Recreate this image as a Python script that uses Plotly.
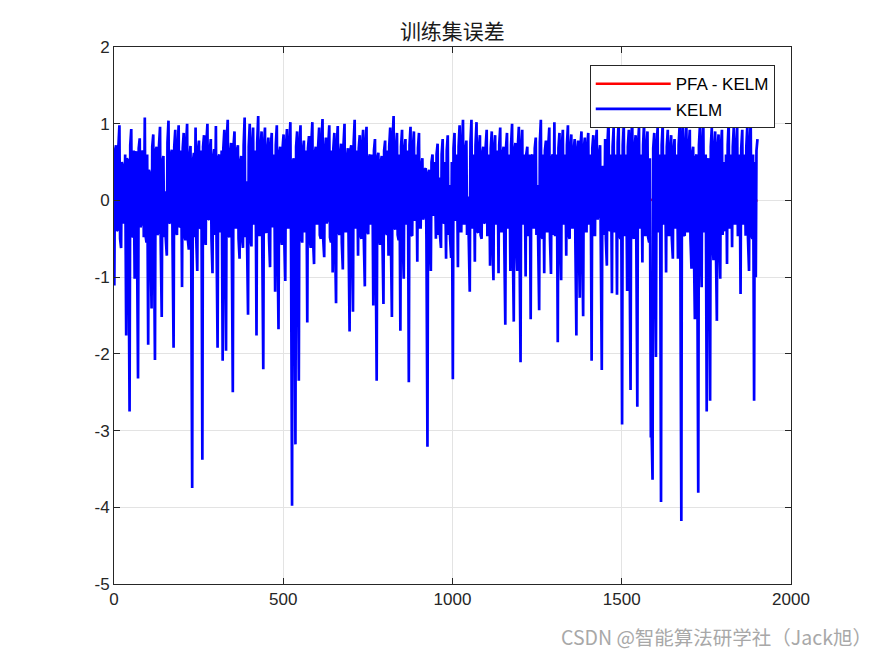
import plotly.graph_objects as go

# KELM training error read at every 5th sample (samples 1, 6, 11, ...)
kelm_step = 5
kelm_err = [
    -1.11, 0.72, -0.38, 0.98, -0.62, 0.45, -0.21, -1.76, 0.52, -2.75, 0.93, -0.48, -1.02, 0.64, -2.32, 0.81, -0.30, 0.62, 1.08, -0.55,
    -1.88, 0.35, -1.41, 0.86, -2.08, 0.70, -0.42, 0.96, -1.52, 0.58, 0.12, -0.72, 1.04, -0.28, 0.66, -1.92, 0.92, -0.45, 0.98, -0.33,
    -1.13, 0.88, -0.52, 1.00, -0.64, 0.71, -3.75, 0.62, 0.95, -0.92, 0.78, -0.36, -3.38, 0.85, -0.58, 1.00, -0.24, 0.80, -0.95, 0.67,
    0.97, -1.92, 0.60, -0.40, -2.09, 0.92, -1.96, 1.05, -0.48, 0.75, -2.50, 0.90, -0.35, 0.72, -0.76, 0.58, -0.62, 1.08, 0.25, -1.49,
    1.00, -0.60, 0.95, -0.30, -1.76, 1.10, -0.45, 0.90, -2.20, 0.95, -0.42, 0.82, -0.87, 0.88, -0.30, -1.19, 0.98, -1.68, 0.70, -0.58,
    0.86, -1.05, 0.93, -0.35, 1.02, -3.98, 0.55, -3.18, 0.90, -2.35, 0.98, -0.55, 0.78, -0.40, -1.59, 0.84, -0.62, 1.02, -0.83, 0.70,
    -0.30, 0.95, -0.50, 1.06, -0.74, 0.82, -0.25, 0.98, -0.55, -0.94, 0.88, -1.34, 0.97, -0.45, 0.74, -0.90, 1.00, -0.40, 0.68, -1.71,
    0.72, -1.45, 1.05, -0.35, -0.72, 0.85, -0.50, 0.92, -1.12, 0.96, -0.44, 0.60, -0.30, -1.37, 0.80, -2.35, 0.62, -0.58, 0.58, -1.35,
    0.78, -0.45, -0.72, 0.95, -1.52, 1.10, -0.38, 0.88, -0.52, -1.70, 0.92, -1.02, 0.80, -0.30, -2.37, 0.96, -0.46, 0.90, -0.25, -0.80,
    0.88, -0.35, 0.55, -0.20, 0.42, -3.21, 0.40, -0.92, 0.60, -0.15, -0.50, 0.74, 0.30, -0.62, 0.80, -0.28, -0.76, 0.85, 0.20, -0.75,
    -2.33, 0.88, -0.25, -0.87, 0.98, -0.40, 1.05, -0.30, 0.78, 0.05, -1.19, 1.05, -0.35, -0.80, 1.02, -0.42, 0.85, -0.50, 0.70, -0.28,
    0.92, -0.45, -0.85, 0.90, -1.04, 0.85, -0.30, -0.95, 0.95, -0.40, 0.70, -1.62, 0.88, -0.35, -0.92, 1.00, -1.58, 0.75, -0.92, 0.96,
    -2.11, 0.92, -0.30, -0.99, 0.70, -0.45, -1.55, 0.60, -0.35, 0.82, 0.20, -1.43, 1.05, -0.50, -0.95, 0.78, -0.40, 0.95, -0.96, 0.60,
    1.02, -0.45, -1.85, 0.88, -1.04, 0.92, -0.30, -0.72, 0.98, -0.50, 0.86, -0.35, 0.80, -1.76, 0.78, -1.27, 0.90, -1.51, 0.82, -0.40,
    0.88, -0.30, -2.09, 0.85, -0.45, 0.92, -0.20, 0.72, -2.21, 0.40, 0.80, -0.85, 1.06, -0.38, -1.21, 0.95, -0.40, -1.23, 1.05, -0.50,
    -2.92, 1.00, -0.45, -1.18, 0.92, -2.47, 1.08, -0.50, 0.85, -2.69, 0.96, -0.35, -0.81, 1.02, -0.45, 0.90, -0.55, -3.09, -3.64, 0.88,
    -2.04, 0.95, -0.40, -3.93, 1.00, -0.30, -0.94, 0.92, -0.45, 0.85, -0.76, 0.80, -0.35, -0.76, 0.98, -4.18, 1.12, -0.46, 0.95, -0.40,
    0.92, -0.89, 0.70, -1.55, 0.60, -3.81, 0.98, -1.13, 1.02, -0.40, -2.75, 0.55, -2.61, 0.95, -0.78, 0.90, -1.57, 0.86, -1.02, 0.92,
    0.50, -0.40, -0.83, 1.04, -0.35, -0.61, 0.96, -0.30, 0.95, -0.45, -1.22, 0.92, -0.30, -0.46, 0.98, -0.92, 1.02, -0.50, -2.61, -1.00,
    0.80,
]
# KELM training error read at the in-between samples (samples 3, 8, 13, ...)
kelm_err_mid = [
    0.65, -0.40, 0.70, -0.50, 0.50, -0.30, 0.60, 0.55, -0.58, 0.72, -0.45, 0.65, 0.60, -0.55, 0.68, -0.35, 0.65, -0.48, -0.45, 0.60,
    0.40, -0.50, 0.70, -0.48, 0.65, -0.45, 0.72, -0.55, 0.50, -0.48, -0.50, 0.75, -0.30, 0.60, -0.58, 0.70, -0.40, 0.68, -0.35, 0.65,
    0.68, -0.45, 0.72, -0.50, 0.55, -0.55, 0.50, -0.48, -0.50, 0.65, -0.35, 0.65, 0.70, -0.45, 0.75, -0.25, 0.65, -0.50, 0.55, -0.45,
    -0.55, 0.55, -0.40, 0.65, 0.68, -0.48, 0.78, -0.45, 0.60, -0.55, 0.70, -0.35, 0.65, -0.50, 0.50, -0.48, 0.72, -0.48, -0.50, 0.70,
    -0.48, 0.72, -0.30, 0.65, 0.75, -0.45, 0.68, -0.55, 0.70, -0.40, 0.65, -0.50, 0.68, -0.35, 0.60, 0.72, -0.50, 0.60, -0.48, 0.68,
    -0.50, 0.70, -0.35, 0.72, -0.55, 0.50, -0.50, 0.70, -0.55, 0.72, -0.45, 0.65, -0.40, 0.65, 0.68, -0.48, 0.75, -0.50, 0.60, -0.30,
    0.70, -0.45, 0.75, -0.50, 0.65, -0.30, 0.72, -0.48, 0.65, 0.68, -0.50, 0.70, -0.40, 0.60, -0.55, 0.72, -0.40, 0.55, -0.50, 0.65,
    -0.50, 0.75, -0.35, 0.65, 0.68, -0.45, 0.70, -0.50, 0.72, -0.40, 0.55, -0.30, 0.60, 0.65, -0.55, 0.55, -0.48, 0.50, -0.50, 0.65,
    -0.40, 0.65, 0.70, -0.50, 0.78, -0.35, 0.68, -0.45, 0.60, 0.70, -0.50, 0.65, -0.30, 0.65, 0.72, -0.45, 0.68, -0.25, 0.60, 0.68,
    -0.35, 0.45, -0.25, 0.40, -0.50, 0.35, -0.45, 0.50, -0.20, 0.50, 0.60, -0.45, -0.45, 0.60, -0.30, 0.50, 0.65, -0.45, -0.50, 0.50,
    0.68, -0.25, 0.60, 0.70, -0.40, 0.72, -0.30, 0.65, -0.45, -0.50, 0.75, -0.35, 0.60, 0.72, -0.40, 0.68, -0.45, 0.60, -0.30, 0.70,
    -0.45, 0.60, 0.68, -0.50, 0.68, -0.30, 0.65, 0.72, -0.40, 0.60, -0.55, 0.68, -0.35, 0.60, 0.72, -0.50, 0.65, -0.50, 0.70, -0.55,
    0.70, -0.30, 0.60, 0.60, -0.45, 0.60, 0.55, -0.35, 0.68, -0.45, -0.50, 0.75, -0.45, 0.60, 0.65, -0.40, 0.72, -0.50, 0.55, -0.45,
    -0.45, 0.60, 0.68, -0.50, 0.70, -0.30, 0.60, 0.72, -0.45, 0.68, -0.35, 0.65, -0.55, 0.65, -0.50, 0.70, -0.50, 0.68, -0.40, 0.68,
    -0.30, 0.60, 0.68, -0.45, 0.70, -0.25, 0.60, -0.55, 0.45, -0.45, -0.50, 0.75, -0.40, 0.60, 0.70, -0.40, 0.60, 0.75, -0.45, 0.60,
    0.72, -0.45, 0.60, 0.70, -0.55, 0.75, -0.45, 0.68, -0.55, 0.72, -0.35, 0.60, 0.72, -0.45, 0.70, -0.48, 0.55, -2.95, 0.68, -0.55,
    0.70, -0.40, 0.60, 0.72, -0.30, 0.60, 0.70, -0.45, 0.68, -0.50, 0.65, -0.35, 0.60, 0.72, -0.55, 0.78, -0.45, 0.70, -0.40, 0.70,
    -0.50, 0.60, -0.55, 0.55, -0.55, 0.72, -0.50, 0.72, -0.40, 0.60, 0.50, -0.55, 0.70, -0.50, 0.68, -0.55, 0.68, -0.50, 0.70, -0.45,
    -0.35, 0.60, 0.72, -0.35, 0.60, 0.70, -0.30, 0.70, -0.45, 0.60, 0.68, -0.30, 0.60, 0.70, -0.50, 0.72, -0.45, 0.60, 0.50, 0.65,
]

pfa_x = [1, 100, 200, 300, 400, 500, 600, 680, 760, 860, 960, 1034, 1120, 1220, 1320, 1411, 1453, 1560, 1660, 1760, 1860, 1901]
pfa_err = [0.07, 0.03, -0.02, 0.02, -0.03, 0.01, -0.02, 0.03, -0.01, 0.02, -0.03, -0.10, 0.02, -0.02, 0.03, 0.10, -0.06, 0.02, -0.02, 0.01, -0.02, 0.00]

title_text = "训练集误差"
legend_names = ["PFA - KELM", "KELM"]
x_ticks = [0, 500, 1000, 1500, 2000]
y_ticks = [-5, -4, -3, -2, -1, 0, 1, 2]
watermark = "CSDN @智能算法研学社（Jack旭）"

# merge the two sets of samples in sample order
kelm_x_a = list(range(1, 1 + kelm_step * len(kelm_err), kelm_step))
kelm_x_b = list(range(3, 3 + kelm_step * len(kelm_err_mid), kelm_step))
pairs = sorted(zip(kelm_x_a + kelm_x_b, kelm_err + kelm_err_mid))
kelm_x = [p[0] for p in pairs]
kelm_y = [p[1] for p in pairs]

fig = go.Figure()
fig.add_trace(go.Scatter(x=pfa_x, y=pfa_err, mode="lines", name=legend_names[0],
                         line=dict(color="#ff0000", width=2.5, simplify=False)))
fig.add_trace(go.Scatter(x=kelm_x, y=kelm_y, mode="lines", name=legend_names[1],
                         line=dict(color="#0000ff", width=2.7, simplify=False)))

tick_font = dict(family="Liberation Sans, Arial, sans-serif", size=17, color="#262626")
axis_common = dict(
    showgrid=True, gridcolor="#e3e3e3", gridwidth=1,
    showline=True, linecolor="#262626", linewidth=1, mirror="ticks",
    ticks="inside", ticklen=6, tickcolor="#262626",
    zeroline=False, tickfont=tick_font,
)

fig.update_layout(
    width=875, height=656,
    paper_bgcolor="white", plot_bgcolor="white",
    margin=dict(l=114, r=84, t=47, b=72),
    title=dict(text=title_text, x=0.517, xanchor="center", y=0.951, yanchor="middle",
               font=dict(family="Noto Sans CJK SC", size=21, color="#1a1a1a")),
    xaxis=dict(range=[0, 2000], tickvals=x_ticks, ticktext=[str(v) for v in x_ticks], **axis_common),
    yaxis=dict(range=[-5, 2], tickvals=y_ticks, ticktext=[str(v) for v in y_ticks], **axis_common),
    legend=dict(x=0.976, xanchor="right", y=0.966, yanchor="top",
                bordercolor="#262626", borderwidth=1, bgcolor="white",
                font=dict(family="Liberation Sans, Arial, sans-serif", size=17, color="#000000"),
                itemwidth=75, tracegroupgap=0),
    showlegend=True,
    annotations=[dict(text=watermark, xref="paper", yref="paper",
                      x=1.123, xanchor="right", y=-0.097, yanchor="middle",
                      showarrow=False,
                      font=dict(family="Noto Sans CJK SC", size=19.5, color="#a8a8a8"))],
)

fig.write_html("out.html")
